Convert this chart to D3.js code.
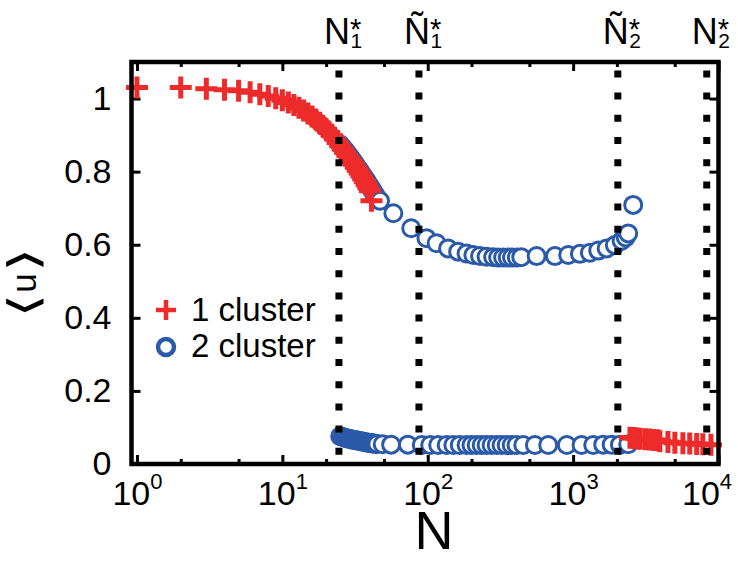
<!DOCTYPE html>
<html>
<head>
<meta charset="utf-8">
<script src="https://cdn.jsdelivr.net/npm/d3@7"></script>
<style>
  body { margin: 0; background: #fff; }
  svg { display: block; }
  text { font-family: "Liberation Sans", Arial, sans-serif; fill: #000; }
</style>
</head>
<body>
<svg id="chart" width="738" height="562"></svg>
<script>
// ---- data: mean u versus system size N ----
// one-cluster states, small-N branch
const singleUpperN = [1,2,3,4,5,6,7,8,9,10,11,12,13,14,15,16,17,18,19,20,21,22,23,24,25,26,27,28,29,30,31,32,33,34,35,36,37,38,39,40,41];
const singleUpperU = [1.03,1.03,1.027,1.024,1.021,1.017,1.012,1.007,1.001,0.995,0.989,0.982,0.975,0.967,0.959,0.951,0.943,0.934,0.925,0.916,0.907,0.898,0.889,0.88,0.871,0.862,0.853,0.844,0.836,0.828,0.82,0.812,0.804,0.796,0.788,0.78,0.772,0.764,0.756,0.748,0.72];
// one-cluster states, large-N branch
const singleLowerN = [2460,2620,2750,2900,3140,3350,3580,3820,3950,4490,5010,5690,6340,7080,7800,8870];
const singleLowerU = [0.072,0.071,0.07,0.069,0.068,0.067,0.066,0.065,0.062,0.06,0.058,0.057,0.056,0.055,0.054,0.053];
// two-cluster states, upper cluster
const doubleUpperN = [25,26,27,28,29,30,31,32,33,34,35,36,37,38,39,40,41,42,43,44,45,47,58,77,98,115,138,162,185,206,229,254,282,305,330,355,380,410,440,561,750,925,1114,1305,1489,1700,1938,2156,2300,2393,2590];
const doubleUpperU = [0.874,0.866,0.858,0.85,0.842,0.834,0.826,0.818,0.81,0.803,0.795,0.788,0.781,0.774,0.767,0.76,0.753,0.746,0.739,0.733,0.727,0.72,0.686,0.645,0.618,0.604,0.59,0.581,0.576,0.572,0.569,0.567,0.566,0.565,0.565,0.565,0.565,0.565,0.566,0.569,0.569,0.572,0.575,0.578,0.584,0.59,0.599,0.611,0.62,0.631,0.709];
// two-cluster states, lower cluster
const doubleLowerN = [25,26,27,28,29,30,31,32,33,34,35,36,37,38,39,40,41,42,43,44,45,49,56,73,91,104,118,135,150,166,185,200,217,235,254,275,298,322,349,378,408,454,546,674,905,1143,1375,1611,1841,2099,2393];
const doubleLowerU = [0.076,0.074,0.072,0.07,0.069,0.067,0.066,0.065,0.064,0.063,0.062,0.061,0.06,0.059,0.058,0.058,0.057,0.056,0.056,0.055,0.055,0.054,0.053,0.053,0.052,0.052,0.052,0.052,0.052,0.052,0.052,0.052,0.052,0.052,0.052,0.052,0.052,0.052,0.052,0.052,0.052,0.052,0.052,0.052,0.052,0.052,0.052,0.053,0.053,0.053,0.054];

// critical sizes marked by dotted lines
const criticalN = [24.5, 87, 2030, 8300];
const criticalBase = ["N", "Ñ", "Ñ", "N"];
const criticalSub = ["1", "1", "2", "2"];

// axis ticks
const xMajorTicks = [1, 10, 100, 1000, 10000];
const xMinorTicks = [2, 5, 20, 50, 200, 500, 2000, 5000];
const yTicks = [0, 0.2, 0.4, 0.6, 0.8, 1];

const legendLabels = ["1 cluster", "2 cluster"];

// ---- layout ----
const plotLeft = 131.5, plotRight = 718.5, plotTop = 62, plotBottom = 464;
const red = "#ee2b2b", blue = "#2a5aa8";

const svg = d3.select("#chart");
const x = d3.scaleLog().domain([0.917, 10000]).range([plotLeft, plotRight]);
const y = d3.scaleLinear().domain([0, 1.1]).range([plotBottom, plotTop]);

const zip = (ns, us) => ns.map((n, i) => ({ n, u: us[i] }));
const singleData = [...zip(singleUpperN, singleUpperU), ...zip(singleLowerN, singleLowerU)];
const doubleData = [...zip(doubleUpperN, doubleUpperU), ...zip(doubleLowerN, doubleLowerU)];

// ---- axes (inward ticks on all four sides) ----
function styleAxis(g) {
  g.select(".domain").remove();
  g.selectAll(".tick line").attr("stroke", "#000").attr("stroke-width", 3);
}

// bottom: decade labels 10^k
const gBottom = svg.append("g").attr("transform", `translate(0,${plotBottom})`)
  .call(d3.axisBottom(x).tickValues(xMajorTicks).tickSize(-9).tickPadding(17))
  .call(styleAxis);
gBottom.selectAll(".tick text")
  .attr("font-size", 34)
  .attr("font-family", "Liberation Sans, Arial, sans-serif")
  .each(function (d) {
    const t = d3.select(this);
    t.text(null);
    t.append("tspan").text("10");
    t.append("tspan").attr("font-size", 22).attr("dy", -16).text(Math.round(Math.log10(d)));
  });
// the last decade label is pulled in so it stays inside the canvas
gBottom.selectAll(".tick text").filter(d => d === 10000).attr("dx", -12);
svg.append("g").attr("transform", `translate(0,${plotBottom})`)
  .call(d3.axisBottom(x).tickValues(xMinorTicks).tickSize(-5).tickFormat(""))
  .call(styleAxis);

// top
svg.append("g").attr("transform", `translate(0,${plotTop})`)
  .call(d3.axisTop(x).tickValues(xMajorTicks).tickSize(-9).tickFormat(""))
  .call(styleAxis);
svg.append("g").attr("transform", `translate(0,${plotTop})`)
  .call(d3.axisTop(x).tickValues(xMinorTicks).tickSize(-5).tickFormat(""))
  .call(styleAxis);

// left with labels
const gLeft = svg.append("g").attr("transform", `translate(${plotLeft},0)`)
  .call(d3.axisLeft(y).tickValues(yTicks).tickSize(-9).tickPadding(20).tickFormat(d3.format("~g")))
  .call(styleAxis);
gLeft.selectAll(".tick text")
  .attr("font-size", 34)
  .attr("font-family", "Liberation Sans, Arial, sans-serif");

// right
svg.append("g").attr("transform", `translate(${plotRight},0)`)
  .call(d3.axisRight(y).tickValues(yTicks).tickSize(-9).tickFormat(""))
  .call(styleAxis);

// ---- data marks ----
svg.append("g").selectAll("circle").data(doubleData).join("circle")
  .attr("cx", d => x(d.n))
  .attr("cy", d => y(d.u))
  .attr("r", 8.5)
  .attr("fill", "#fff")
  .attr("stroke", blue)
  .attr("stroke-width", 3);

const crossPath = "M-11,0H11M0,-11V11";
svg.append("g").selectAll("path").data(singleData).join("path")
  .attr("transform", d => `translate(${x(d.n)},${y(d.u)})`)
  .attr("d", crossPath)
  .attr("stroke", red)
  .attr("stroke-width", 5)
  .attr("fill", "none");

// ---- dotted markers at the critical sizes ----
svg.append("g").selectAll("line").data(criticalN).join("line")
  .attr("x1", d => x(d)).attr("x2", d => x(d))
  .attr("y1", plotTop).attr("y2", plotBottom)
  .attr("stroke", "#000")
  .attr("stroke-width", 7)
  .attr("stroke-dasharray", "7 15.2")
  .attr("stroke-dashoffset", 13.8);

const critLabels = svg.append("g").selectAll("g").data(criticalN).join("g")
  .attr("transform", d => `translate(${x(d)},0)`);
critLabels.append("text")
  .attr("text-anchor", "middle")
  .attr("x", -2)
  .attr("y", 44)
  .attr("font-size", 36)
  .text((d, i) => criticalBase[i]);
critLabels.append("text")
  .attr("x", 11.5)
  .attr("y", 48)
  .attr("font-size", 21)
  .text((d, i) => criticalSub[i]);
critLabels.append("text")
  .attr("x", 11)
  .attr("y", 39)
  .attr("font-size", 29)
  .text("*");

// ---- frame ----
svg.append("rect")
  .attr("x", plotLeft).attr("y", plotTop)
  .attr("width", plotRight - plotLeft).attr("height", plotBottom - plotTop)
  .attr("fill", "none").attr("stroke", "#000").attr("stroke-width", 4.5);

// ---- axis titles ----
svg.append("text")
  .attr("x", (plotLeft + plotRight) / 2 + 9)
  .attr("y", 549)
  .attr("text-anchor", "middle")
  .attr("font-size", 54)
  .text("N");

// <u> written sideways: thin, wide angle brackets around an upright u
const yTitle = svg.append("g").attr("transform", "translate(36,283) rotate(-90)");
yTitle.append("text")
  .attr("text-anchor", "middle")
  .attr("font-size", 35)
  .text("u");
yTitle.selectAll("text.br").data([["⟨", -23], ["⟩", 23]]).join("text")
  .attr("class", "br")
  .attr("text-anchor", "middle")
  .attr("transform", d => `translate(${d[1]},2) scale(1.5,1)`)
  .attr("font-family", "DejaVu Sans")
  .attr("font-weight", 200)
  .attr("font-size", 42)
  .text(d => d[0]);

// ---- legend ----
const legend = svg.append("g");
legend.append("path")
  .attr("transform", "translate(166,310)")
  .attr("d", "M-10,0H10M0,-10V10")
  .attr("stroke", red).attr("stroke-width", 4.5);
legend.append("circle")
  .attr("cx", 166).attr("cy", 347).attr("r", 8)
  .attr("fill", "#fff").attr("stroke", blue).attr("stroke-width", 4.5);
legend.selectAll("text.lab").data(legendLabels).join("text")
  .attr("class", "lab")
  .attr("x", 191)
  .attr("y", (d, i) => 321 + i * 36)
  .attr("font-size", 33)
  .text(d => d);
</script>
</body>
</html>
